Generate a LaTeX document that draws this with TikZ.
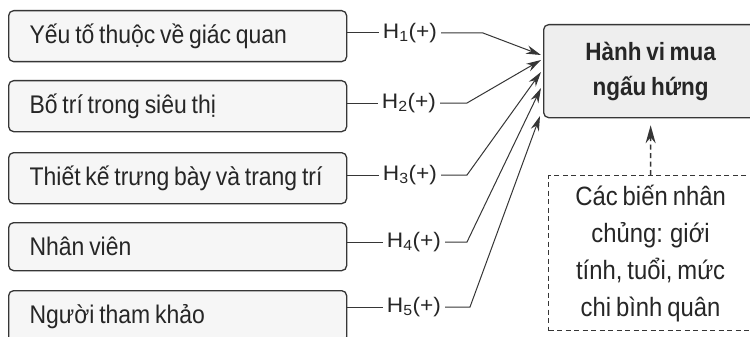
\documentclass[tikz,border=0pt]{standalone}
\usepackage{fontspec}
\setmainfont{Liberation Sans}[FakeStretch=0.9, WordSpace=0.75]
\newfontfamily\lblfont{Liberation Sans}[FakeStretch=1.08]
\usetikzlibrary{arrows.meta}
\definecolor{linec}{HTML}{363636}
\definecolor{textc}{HTML}{262626}
\definecolor{boxfill}{HTML}{F6F6F6}
\definecolor{mainfill}{HTML}{EEEEEE}
\newcommand{\lefttext}[1]{\makebox[296pt][l]{#1}}
\begin{document}
\begin{tikzpicture}[x=1pt,y=-1pt,
  leftbox/.style={draw=linec, line width=1.3pt, rounded corners=5pt, fill=boxfill,
    anchor=north west, minimum width=338pt, minimum height=51pt,
    inner xsep=21pt, inner ysep=0pt, font=\fontsize{25.5}{30}\selectfont, text=textc},
  hlabel/.style={inner xsep=4pt, inner ysep=1.5pt, font=\lblfont\fontsize{21}{24}\selectfont, text=textc},
  conn/.style={draw=linec, line width=1pt},
  arr/.style={conn, -{Stealth[length=15pt,width=8.5pt]}},
]
\clip (0,0) rectangle (750,337);
\fill[white] (0,0) rectangle (750,337);

% left boxes
\node[leftbox] (b1) at (8,10) {\lefttext{Yếu tố thuộc về giác quan}};
\node[leftbox] (b2) at (8,80) {\lefttext{Bố trí trong siêu thị}};
\node[leftbox] (b3) at (8,152) {\lefttext{Thiết kế trưng bày và trang trí}};
\node[leftbox, minimum height=48pt] (b4) at (8,222) {\lefttext{Nhân viên}};
\node[leftbox] (b5) at (8,290) {\lefttext{Người tham khảo}};

% main box
\node[draw=linec, line width=1.3pt, rounded corners=5pt, fill=mainfill, anchor=north west,
  minimum width=214pt, minimum height=93pt, align=center, text=textc,
  font=\bfseries\fontsize{25}{35}\selectfont] (main) at (543,24) {Hành vi mua\\ngấu hứng};

% dashed box
\node[draw=linec, line width=1.2pt, dash pattern=on 5pt off 3.5pt, anchor=north west,
  minimum width=204pt, minimum height=155pt, align=center, text=textc,
  font=\fontsize{26.5}{37}\selectfont] (dbox) at (548,175)
  {Các biến nhân\\chủng: giới\\tính, tuổi, mức\\chi bình quân};

% labels
\node[hlabel] (h1) at (410,33) {H\textsubscript{1}(+)};
\node[hlabel] (h2) at (409,103) {H\textsubscript{2}(+)};
\node[hlabel] (h3) at (410,175) {H\textsubscript{3}(+)};
\node[hlabel] (h4) at (414,242) {H\textsubscript{4}(+)};
\node[hlabel] (h5) at (414,307) {H\textsubscript{5}(+)};

% bends and tips
\coordinate (c1) at (483,33);
\coordinate (c2) at (467,103);
\coordinate (c3) at (467,175);
\coordinate (c4) at (467,242);
\coordinate (c5) at (470,307);
\coordinate (t1) at (541,55);
\coordinate (t2) at (541,60);
\coordinate (t3) at (541,72);
\coordinate (t4) at (541,88);
\coordinate (t5) at (540,116);

\foreach \i in {1,...,5}{
  \draw[conn] (b\i.east |- h\i.west) -- (h\i.west);
  \draw[arr] (h\i.east) -- (c\i) -- (t\i);
}

% dashed arrow
\draw[draw=linec, line width=1.5pt, dash pattern=on 5pt off 3.5pt,
  -{Stealth[length=18pt,width=10pt]}, shorten >=7pt] (dbox.north) -- (main.south);
\end{tikzpicture}
\end{document}
